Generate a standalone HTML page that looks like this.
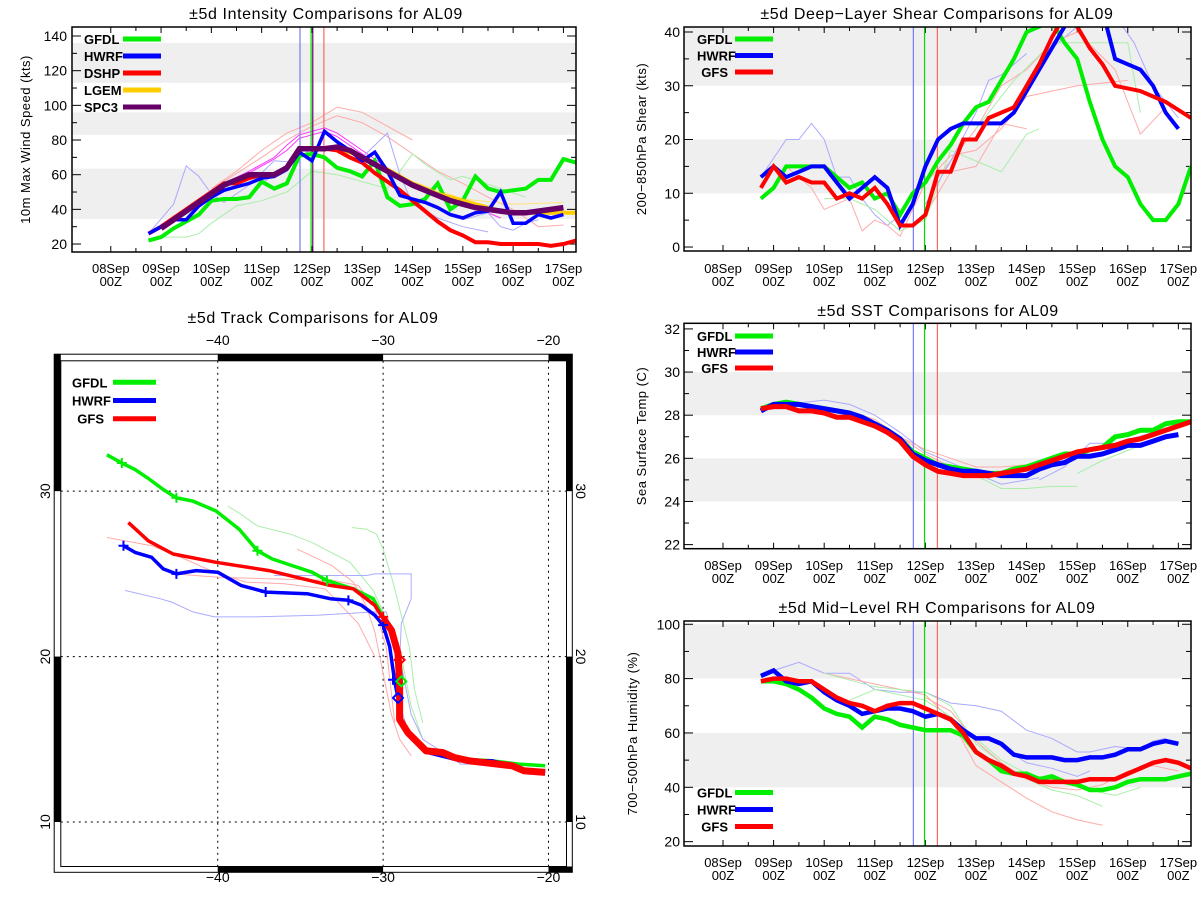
<!DOCTYPE html>
<html><head><meta charset="utf-8"><style>
html,body{margin:0;padding:0;background:#fff;}
svg{display:block;font-family:"Liberation Sans",sans-serif;}
</style></head><body>
<svg id="root" width="1200" height="900" viewBox="0 0 1200 900"></svg>
<script>
// ---------- DATA ----------
const dayLabels = ["08Sep","09Sep","10Sep","11Sep","12Sep","13Sep","14Sep","15Sep","16Sep","17Sep"];
const stepHours = 6;
// Intensity (kts), start 18h after 08Sep00Z, 6-hourly
const intStart = 18;
const intGFDL = [22,24,29,33,37,45,46,46,47,56,52,55,71,72,70,64,62,59,68,47,42,43,46,55,40,45,59,52,50,51,52,57,57,69,67];
const intHWRF = [26,30,34,34,42,47,51,53,55,58,59,63,73,68,85,79,74,68,73,62,48,46,44,41,37,35,38,39,50,32,32,37,35,37];
const intDSHP = [26,30,35,40,45,50,55,55,58,60,60,64,75,75,75,74,70,67,61,56,51,45,39,33,28,25,21,21,20,20,20,20,19,20,22];
const intLGEM = [null,null,null,null,null,null,null,null,null,null,null,null,75,75,75,75,73,70,66,63,59,55,52,49,47,45,43,41,39,38,38,38,38,38,38];
const intSPC3Start = 24;
const intSPC3 = [29,34,39,44,49,54,57,60,60,60,64,75,75,75,76,74,70,66,62,58,54,51,48,45,43,41,40,39,38,38,39,40,41];
const intFaintHours = [
  [48,60,72,84,96,108,120,132,144],
  [54,72,84,96,108,120,132,144,156,168,180,192,204,216],
  [54,66,78,84,90,102,108,120,132,144,156,168,180,186],
  [54,66,78,84,90,102,108,120,132],
  [18,30,36,42,48,54,66,78,90],
  [72,84,96,108,120,132,138,144,156,168,180],
  [24,36,42,48,60,72,84,96,108,120,132,144,150,162,168,174,186,198],
  [168,180,186,192,198,204],
  [120,144,168,192,216]];
const intFaintVals = [
  [52,62,74,84,90,99,96,88,80],
  [56,70,80,88,94,90,82,72,62,55,47,40,30,31],
  [55,62,70,77,83,87,84,74,64,55,48,43,38,35],
  [54,61,69,74,81,85,82,72,62],
  [26,43,65,59,49,44,54,68,67],
  [55,65,75,74,70,84,60,43,35,30,27],
  [24,24,26,32,42,45,50,62,60,56,52,72,66,57,59,57,52,47],
  [34,38,30,28,32,34],
  [70,56,46,43,44]];
const intFaintColors = ["#ffaaaa","#ffaaaa","#ff33ff","#ff33ff","#aaaaff","#aaaaff","#aaeeaa","#aaaaff","#ffe080"];

// Shear (kts)
const shrStart = 18;
const shrGFDL = [9,11,15,15,15,15,13,11,12,9,10,6,10,12,16,19,23,26,27,31,35,40,41,42,38,35,27,20,15,13,8,5,5,8,15];
const shrHWRF = [13,15,13,14,15,15,12,9,11,13,11,4,8,15,20,22,23,23,23,23,25,29,33,37,41,45,45,44,35,34,33,30,25,22];
const shrGFS  = [11,15,12,13,12,12,9,10,9,11,8,4,4,6,14,14,20,20,24,25,26,30,34,39,43,41,37,34,30,29.5,29,28,27,25.5,24];
const shrFaintHours = [
  [18,30,36,42,48,54,60,66,72,78,84],
  [156,168,186,195,204,216],
  [30,42,48,60,66,72,78,84,96,108,120,132,144,168,192],
  [96,108,120,132,144],
  [102,120,132,144,156,168,186,198,210],
  [48,60,72,84,96,108,120,132,144,150],
  [120,138,156,168,192,198],
  [96,108,120,126,132,144]];
const shrFaintVals = [
  [13,20,20,23,20,13,13,9,6,4,6],
  [37,41,43,38,30,24],
  [15,11,7,9,3,5,4,2,12,17,18,22,28,30,31],
  [6,14,15,23,22],
  [13,22,30,33,38,40,33,21,26],
  [9,9,7,3,5,18,16,14,21,22],
  [22,31,38,38,38,25],
  [8,16,25,31,32,36]];
const shrFaintColors = ["#aaaaff","#aaaaff","#ffaaaa","#ffaaaa","#ffaaaa","#aaeeaa","#aaeeaa","#aaaaff"];

// SST (C)
const sstStart = 18;
const sstGFDL = [28.3,28.5,28.6,28.5,28.4,28.3,28.2,28.1,27.9,27.6,27.3,26.9,26.3,26.0,25.7,25.6,25.5,25.4,25.3,25.3,25.5,25.6,25.8,26.0,26.2,26.2,26.4,26.5,27.0,27.1,27.3,27.3,27.6,27.7,27.7];
const sstHWRF = [28.2,28.5,28.5,28.5,28.4,28.3,28.2,28.1,27.9,27.6,27.3,26.9,26.2,25.9,25.7,25.5,25.4,25.4,25.3,25.2,25.2,25.2,25.5,25.7,25.8,26.1,26.1,26.2,26.4,26.6,26.6,26.8,27.0,27.1];
const sstGFS  = [28.3,28.4,28.4,28.2,28.2,28.1,27.9,27.9,27.7,27.5,27.2,26.8,26.1,25.7,25.4,25.3,25.2,25.2,25.2,25.3,25.4,25.5,25.7,25.9,26.1,26.3,26.4,26.5,26.6,26.8,26.9,27.1,27.3,27.5,27.7];
const sstFaintHours = [
  [30,48,60,72,84,96,108,120,132,144,150],
  [120,132,144,156,168],
  [84,96,108,120,132,144],
  [150,162,174,186,204],
  [168,180,198],
  [60,72,84,96,108]];
const sstFaintVals = [
  [28.5,28.7,28.5,28.0,27.2,26.3,25.8,25.3,24.8,25.0,25.1],
  [25.2,24.6,24.6,24.7,24.7],
  [27.0,26.4,26.0,25.6,25.6,25.7],
  [25.0,25.6,26.7,26.7,27.2],
  [25.3,25.9,26.6],
  [28.2,27.8,27.0,26.2,25.6]];
const sstFaintColors = ["#aaaaff","#aaeeaa","#ffaaaa","#aaaaff","#aaeeaa","#ffaaaa"];

// Mid-level RH (%)
const rhStart = 18;
const rhGFDL = [79,79,78,76,73,69,67,66,62,66,65,63,62,61,61,61,59,53,50,46,45,45,43,44,42,41,39,39,40,42,43,43,43,44,45];
const rhHWRF = [81,83,79,78,79,75,72,70,67,68,69,69,68,66,67,65,61,58,58,56,52,51,51,51,50,50,51,51,52,54,54,56,57,56];
const rhGFS  = [79,80,80,79,79,76,73,71,70,68,70,71,71,69,67,65,60,53,50,48,45,44,42,42,42,42,43,43,43,45,47,49,50,49,47];
const rhFaintHours = [
  [24,36,48,60,72,84,96,108,120,132,144,156,168,174,186,198,204,210],
  [48,72,96,108,120,132,144,156,168,180],
  [48,72,96,108,120,132,144,156,168,180],
  [96,108,120,132,144,156,168,180,192,204,216],
  [132,144,156,168,174],
  [60,72,84,96,108,120,132,144,156,168,186,198]];
const rhFaintVals = [
  [83,86,82,82,76,75,75,71,70,68,61,58,53,53,55,54,57,58],
  [82,78,74,65,48,42,36,31,28,26],
  [82,77,75,70,56,49,43,39,37,33],
  [73,68,57,49,43,40,39,41,46,48,46],
  [55,49,47,44,46],
  [72,76,74,72,66,58,50,45,43,40,37,40]];
const rhFaintColors = ["#aaaaff","#ffaaaa","#aaeeaa","#ffaaaa","#aaaaff","#aaeeaa"];

// Tracks (lon, lat)
const trkGFDLlon = [-46.7,-45.8,-45.0,-44.1,-43.3,-42.5,-41.5,-40.1,-38.7,-37.6,-36.7,-35.5,-34.3,-33.4,-31.8,-30.6,-30.1,-29.6,-29.0,-28.9,-29.0,-28.5,-27.6,-26.4,-25.3,-23.4,-21.8,-20.2];
const trkGFDLlat = [32.2,31.7,31.3,30.7,30.1,29.6,29.4,28.8,27.7,26.4,25.9,25.5,25.1,24.6,24.1,23.5,22.6,21.6,20.0,18.5,16.4,15.5,14.5,14.1,13.8,13.7,13.5,13.4];
const trkHWRFlon = [-45.7,-45.0,-44.0,-43.3,-42.5,-41.3,-40.0,-38.6,-37.1,-34.6,-33.2,-32.1,-31.3,-30.5,-30.0,-29.6,-29.3,-29.1,-28.9,-28.3,-27.3,-25.3,-23.4,-22.2,-21.5,-20.2];
const trkHWRFlat = [26.7,26.3,26.0,25.3,25.0,25.2,25.1,24.3,23.9,23.8,23.5,23.4,23.1,22.5,21.9,20.6,18.5,17.5,16.2,15.2,14.2,13.7,13.7,13.4,13.1,13.1];
const trkGFSlon = [-45.4,-44.2,-42.7,-40.1,-36.9,-33.2,-31.8,-30.5,-30.0,-29.5,-29.1,-29.0,-29.0,-28.5,-27.4,-26.4,-25.7,-24.8,-22.2,-21.5,-20.2];
const trkGFSlat = [28.1,27.0,26.2,25.7,25.2,24.3,24.1,23.1,22.3,21.6,20.2,18.3,16.2,15.4,14.3,14.2,13.9,13.7,13.4,13.1,13.0];
const trkGFDLmarkLon = [-45.8,-42.5,-37.6,-33.4];
const trkGFDLmarkLat = [31.7,29.6,26.4,24.6];
const trkHWRFmarkLon = [-45.7,-42.5,-37.1,-32.1,-30.0,-29.4];
const trkHWRFmarkLat = [26.7,25.0,23.9,23.4,21.9,18.6];
const trkGFSmarkLon = [-30.0];
const trkGFSmarkLat = [22.4];
const trkDiamondLon = [-29.1,-28.9,-29.0];
const trkDiamondLat = [17.5,18.5,19.8];
const trkDiamondColors = ["#0000ff","#00ee00","#ff0000"];
const trkFaintLon = [
  [-39.4,-38.6,-37.6,-35.6,-34.3,-32.0,-30.6,-29.9,-29.3,-28.8,-28.3,-27.6],
  [-31.9,-31.0,-30.4,-30.0,-29.4,-28.9,-28.4,-28.1,-27.6],
  [-46.7,-44.0,-42.0,-40.2,-38.3,-36.0,-33.5,-31.5,-30.5],
  [-42.6,-40.0,-37.0,-33.0,-31.5,-30.5,-29.8,-29.3],
  [-45.6,-43.5,-42.8,-41.5,-40.2,-38.0,-34.0,-30.5,-29.8,-29.4,-28.8,-28.3,-27.6,-25.3,-22.0],
  [-36.6,-33.0,-31.0,-30.5,-28.3,-28.3,-28.9,-29.0,-29.1,-28.5,-27.6,-26.8],
  [-35.2,-33.1,-31.8,-31.0,-30.5,-30.0,-29.5,-29.0,-28.3]];
const trkFaintLat = [
  [29.1,28.6,27.9,27.4,26.9,25.7,24.0,22.5,21.0,19.5,17.0,15.0],
  [27.8,27.7,27.4,26.5,24.5,22.5,20.5,18.0,16.0],
  [27.2,26.7,25.9,25.1,24.5,24.4,24.1,22.0,20.0],
  [25.0,24.8,24.7,24.6,24.3,23.0,20.5,16.0],
  [24.0,23.5,23.3,22.7,22.4,22.4,22.5,22.7,22.7,21.0,19.0,16.5,15.0,13.5,13.5],
  [24.9,24.9,24.9,25.0,25.0,23.5,22.0,19.5,17.5,15.5,14.5,14.0],
  [26.5,25.5,24.5,23.0,21.5,19.0,16.5,15.0,14.0]];
const trkFaintColors = ["#aaeeaa","#aaeeaa","#ffaaaa","#ffaaaa","#aaaaff","#aaaaff","#ffaaaa"];

// ---------- DRAWING ----------
const NS = "http://www.w3.org/2000/svg";
const root = document.getElementById('root');
function mk(tag, attrs, parent) {
  const e = document.createElementNS(NS, tag);
  for (const k in attrs) e.setAttribute(k, attrs[k]);
  (parent || root).appendChild(e);
  return e;
}
const H_MIN = -18.5, H_MAX = 222;

function drawPanel(cfg) {
  const g = mk('g', {});
  
  
  const X = h => cfg.x0 + (h - H_MIN) / (H_MAX - H_MIN) * (cfg.x1 - cfg.x0);
  const Y = v => cfg.y1 - (v - cfg.vmin) / (cfg.vmax - cfg.vmin) * (cfg.y1 - cfg.y0);
  const clipId = cfg.name + '-clip';
  const cp = mk('clipPath', {id: clipId}, g);
  mk('rect', {x: cfg.x0, y: cfg.y0, width: cfg.x1 - cfg.x0, height: cfg.y1 - cfg.y0}, cp);
  cfg.bands.forEach(b => {
    const r = mk('rect', {x: cfg.x0, y: Y(Math.min(b[1], cfg.vmax)), width: cfg.x1 - cfg.x0, height: Y(b[0]) - Y(Math.min(b[1], cfg.vmax)), fill: '#efefef'}, g);
    
    
  });
  const t = mk('text', {x: cfg.titleX, y: cfg.titleY, 'text-anchor': 'middle', 'font-size': 16, fill: '#000', 'letter-spacing': '0.6'}, g);
  t.textContent = cfg.title;
  
  
  const yt = mk('text', {x: 0, y: 0, transform: `translate(${cfg.ytX},${(cfg.y0 + cfg.y1) / 2}) rotate(-90)`, 'text-anchor': 'middle', 'font-size': 13, fill: '#000', 'letter-spacing': '0.5'}, g);
  yt.textContent = cfg.ytitle;
  
  
  for (let v = cfg.tickMin; v <= cfg.tickMax + 1e-6; v += cfg.minor) {
    const major = Math.abs(((v - cfg.tickMin) / cfg.major) - Math.round((v - cfg.tickMin) / cfg.major)) < 1e-6;
    const len = major ? 9 : 5;
    mk('line', {x1: cfg.x0, x2: cfg.x0 + len, y1: Y(v), y2: Y(v), stroke: '#000', 'stroke-width': 1}, g);
    mk('line', {x1: cfg.x1, x2: cfg.x1 - len, y1: Y(v), y2: Y(v), stroke: '#000', 'stroke-width': 1}, g);
    if (major) {
      const tl = mk('text', {x: cfg.ylabX, y: Y(v) + 5, 'text-anchor': 'end', 'font-size': 14, fill: '#000'}, g);
      tl.textContent = String(v);
      
      
    }
  }
  for (let h = 0; h <= 216; h += 12) {
    const len = (h % 24 === 0) ? 6 : 4;
    mk('line', {x1: X(h), x2: X(h), y1: cfg.y1, y2: cfg.y1 - len, stroke: '#000', 'stroke-width': 1}, g);
    mk('line', {x1: X(h), x2: X(h), y1: cfg.y0, y2: cfg.y0 + len, stroke: '#000', 'stroke-width': 1}, g);
  }
  dayLabels.forEach((d, i) => {
    const tl = mk('text', {x: X(i * 24), y: cfg.xlabY, 'text-anchor': 'middle', 'font-size': 13, fill: '#000'}, g);
    tl.textContent = d;
    
    
    const t2 = mk('text', {x: X(i * 24), y: cfg.xlabY + 13, 'text-anchor': 'middle', 'font-size': 13, fill: '#000'}, g);
    t2.textContent = '00Z';
    
    
  });
  const plot = mk('g', {'clip-path': `url(#${clipId})`}, g);
  cfg.faintHours.forEach((hs, i) => {
    const pts = hs.map((h, j) => X(h).toFixed(1) + ',' + Y(cfg.faintVals[i][j]).toFixed(1)).join(' ');
    const p = mk('polyline', {points: pts, fill: 'none', stroke: cfg.faintColors[i], 'stroke-width': 1}, plot);
    
    
  });
  cfg.vlines.forEach(v => {
    const l = mk('line', {x1: X(v[0]), x2: X(v[0]), y1: cfg.y0, y2: cfg.y1, stroke: v[1], 'stroke-width': 1.2}, plot);
    
    
  });
  cfg.series.forEach(s => {
    let pts = [];
    s.vals.forEach((v, j) => { if (v !== null) pts.push(X(s.start + j * stepHours).toFixed(1) + ',' + Y(v).toFixed(1)); });
    const p = mk('polyline', {points: pts.join(' '), fill: 'none', stroke: s.color, 'stroke-width': s.w, 'stroke-linejoin': 'miter'}, plot);
    
    
  });
  mk('rect', {x: cfg.x0, y: cfg.y0, width: cfg.x1 - cfg.x0, height: cfg.y1 - cfg.y0, fill: 'none', stroke: '#000', 'stroke-width': 1.5}, g);
  cfg.legend.forEach((L, i) => {
    const ly = cfg.legY + i * cfg.legDy;
    const lt = mk('text', {x: L.anchor === 'end' ? cfg.legTextEnd : cfg.legX, y: ly + 5, 'text-anchor': L.anchor || 'start', 'font-size': 13, 'font-weight': 'bold', fill: '#000'}, g);
    lt.textContent = L.label;
    
    
    const ll = mk('line', {x1: cfg.legL0, x2: cfg.legL1, y1: ly, y2: ly, stroke: L.color, 'stroke-width': 5}, g);
    
    
  });
}

drawPanel({name: 'intensity-chart', x0: 72, x1: 576, y0: 27, y1: 252, vmin: 15.4, vmax: 145.2,
  bands: [[34.5, 63.5], [83, 96], [113, 136]], title: '\u00b15d Intensity Comparisons for AL09', titleX: 326, titleY: 19,
  ytitle: '10m Max Wind Speed (kts)', ytX: 30, ylabX: 67, tickMin: 20, tickMax: 140, major: 20, minor: 10, xlabY: 273,
  faintHours: intFaintHours, faintVals: intFaintVals, faintColors: intFaintColors,
  vlines: [[90.3, '#7777ff'], [95.6, '#00dd00'], [96.4, '#660066'], [101.7, '#ff6666']],
  series: [
    {name: 'gfdl-line', vals: intGFDL, start: intStart, color: '#00ee00', w: 4},
    {name: 'lgem-line', vals: intLGEM, start: intStart, color: '#ffcc00', w: 4},
    {name: 'dshp-line', vals: intDSHP, start: intStart, color: '#ff0000', w: 4},
    {name: 'hwrf-line', vals: intHWRF, start: intStart, color: '#0000ff', w: 3.5},
    {name: 'spc3-line', vals: intSPC3, start: intSPC3Start, color: '#660066', w: 5.5}],
  legend: [{label: 'GFDL', color: '#00ee00'}, {label: 'HWRF', color: '#0000ff'}, {label: 'DSHP', color: '#ff0000'}, {label: 'LGEM', color: '#ffcc00'}, {label: 'SPC3', color: '#660066'}],
  legX: 84, legTextEnd: 117, legL0: 123, legL1: 161, legY: 39, legDy: 17});

drawPanel({name: 'shear-chart', x0: 684, x1: 1191, y0: 27, y1: 251, vmin: -0.74, vmax: 40.93,
  bands: [[10, 20], [30, 40.93]], title: '\u00b15d Deep\u2212Layer Shear Comparisons for AL09', titleX: 937, titleY: 19,
  ytitle: '200\u2212850hPa Shear (kts)', ytX: 646, ylabX: 680, tickMin: 0, tickMax: 40, major: 10, minor: 5, xlabY: 273,
  faintHours: shrFaintHours, faintVals: shrFaintVals, faintColors: shrFaintColors,
  vlines: [[90.3, '#7777ff'], [95.6, '#00dd00'], [101.7, '#ff6666']],
  series: [
    {name: 'gfdl-line', vals: shrGFDL, start: shrStart, color: '#00ee00', w: 4},
    {name: 'hwrf-line', vals: shrHWRF, start: shrStart, color: '#0000ff', w: 4},
    {name: 'gfs-line', vals: shrGFS, start: shrStart, color: '#ff0000', w: 4}],
  legend: [{label: 'GFDL', color: '#00ee00'}, {label: 'HWRF', color: '#0000ff'}, {label: 'GFS', color: '#ff0000', anchor: 'end'}],
  legX: 697, legTextEnd: 728, legL0: 735, legL1: 773, legY: 39, legDy: 16.5});

drawPanel({name: 'sst-chart', x0: 684, x1: 1191, y0: 323.3, y1: 548.7, vmin: 21.81, vmax: 32.26,
  bands: [[24, 26], [28, 30]], title: '\u00b15d SST Comparisons for AL09', titleX: 938, titleY: 316,
  ytitle: 'Sea Surface Temp (C)', ytX: 646, ylabX: 680, tickMin: 22, tickMax: 32, major: 2, minor: 1, xlabY: 570,
  faintHours: sstFaintHours, faintVals: sstFaintVals, faintColors: sstFaintColors,
  vlines: [[90.3, '#7777ff'], [95.6, '#00dd00'], [101.7, '#ff6666']],
  series: [
    {name: 'gfdl-line', vals: sstGFDL, start: sstStart, color: '#00ee00', w: 5},
    {name: 'hwrf-line', vals: sstHWRF, start: sstStart, color: '#0000ff', w: 5},
    {name: 'gfs-line', vals: sstGFS, start: sstStart, color: '#ff0000', w: 5}],
  legend: [{label: 'GFDL', color: '#00ee00'}, {label: 'HWRF', color: '#0000ff'}, {label: 'GFS', color: '#ff0000', anchor: 'end'}],
  legX: 697, legTextEnd: 728, legL0: 735, legL1: 773, legY: 336, legDy: 16});

drawPanel({name: 'rh-chart', x0: 684, x1: 1191, y0: 621, y1: 846, vmin: 18.4, vmax: 101.2,
  bands: [[40, 60], [80, 100]], title: '\u00b15d Mid\u2212Level RH Comparisons for AL09', titleX: 937, titleY: 613,
  ytitle: '700\u2212500hPa Humidity (%)', ytX: 637, ylabX: 680, tickMin: 20, tickMax: 100, major: 20, minor: 10, xlabY: 867,
  faintHours: rhFaintHours, faintVals: rhFaintVals, faintColors: rhFaintColors,
  vlines: [[90.3, '#7777ff'], [95.6, '#00dd00'], [101.7, '#ff6666']],
  series: [
    {name: 'gfdl-line', vals: rhGFDL, start: rhStart, color: '#00ee00', w: 4.5},
    {name: 'hwrf-line', vals: rhHWRF, start: rhStart, color: '#0000ff', w: 4.5},
    {name: 'gfs-line', vals: rhGFS, start: rhStart, color: '#ff0000', w: 4.5}],
  legend: [{label: 'GFDL', color: '#00ee00'}, {label: 'HWRF', color: '#0000ff'}, {label: 'GFS', color: '#ff0000', anchor: 'end'}],
  legX: 697, legTextEnd: 728, legL0: 735, legL1: 773, legY: 792.5, legDy: 17});

// ---------- TRACK MAP ----------
(function () {
  const g = mk('g', {});
  
  
  const ix0 = 60.8, ix1 = 566.5, iy0 = 360.8, iy1 = 866.5;
  const lonMin = -49.49, lonMax = -18.91, latMin = 7.31, latMax = 37.88;
  const LX = lon => ix0 + (lon - lonMin) / (lonMax - lonMin) * (ix1 - ix0);
  const LY = lat => iy1 - (lat - latMin) / (latMax - latMin) * (iy1 - iy0);
  const ox0 = 54.2, ox1 = 572.3, oy0 = 354.2, oy1 = 872.3;
  const t = mk('text', {x: 313, y: 323, 'text-anchor': 'middle', 'font-size': 16, fill: '#000', 'letter-spacing': '0.6'}, g);
  t.textContent = '\u00b15d Track Comparisons for AL09';
  
  
  mk('rect', {x: ox0, y: oy0, width: ox1 - ox0, height: oy1 - oy0, fill: '#fff', stroke: '#000', 'stroke-width': 1}, g);
  const blk = (x, y, w, h) => mk('rect', {x: x, y: y, width: w, height: h, fill: '#000'}, g);
  blk(LX(-40), oy0, LX(-30) - LX(-40), iy0 - oy0);
  blk(LX(-40), iy1, LX(-30) - LX(-40), oy1 - iy1);
  blk(LX(-20), oy0, ox1 - LX(-20), iy0 - oy0);
  blk(LX(-20), iy1, ox1 - LX(-20), oy1 - iy1);
  blk(ox0, oy0, ix0 - ox0, LY(30) - oy0);
  blk(ix1, oy0, ox1 - ix1, LY(30) - oy0);
  blk(ox0, LY(20), ix0 - ox0, LY(10) - LY(20));
  blk(ix1, LY(20), ox1 - ix1, LY(10) - LY(20));
  mk('rect', {x: ix0, y: iy0, width: ix1 - ix0, height: iy1 - iy0, fill: '#fff', stroke: '#000', 'stroke-width': 1}, g);
  [-40, -30, -20].forEach(lon => {
    const gl = mk('line', {x1: LX(lon), x2: LX(lon), y1: iy0, y2: iy1, stroke: '#000', 'stroke-width': 1, 'stroke-dasharray': '2,4'}, g);
    
    
    [345, 882].forEach(yy => {
      const tl = mk('text', {x: LX(lon), y: yy, 'text-anchor': 'middle', 'font-size': 14, fill: '#000'}, g);
      tl.textContent = '\u2212' + Math.abs(lon);
      
      
    });
  });
  [10, 20, 30].forEach(lat => {
    const gl = mk('line', {x1: ix0, x2: ix1, y1: LY(lat), y2: LY(lat), stroke: '#000', 'stroke-width': 1, 'stroke-dasharray': '2,4'}, g);
    
    
    const a = mk('text', {x: 0, y: 0, transform: `translate(50,${LY(lat)}) rotate(-90)`, 'text-anchor': 'middle', 'font-size': 14, fill: '#000'}, g);
    a.textContent = String(lat);
    
    
    const b = mk('text', {x: 0, y: 0, transform: `translate(576,${LY(lat)}) rotate(90)`, 'text-anchor': 'middle', 'font-size': 14, fill: '#000'}, g);
    b.textContent = String(lat);
    
    
  });
  trkFaintLon.forEach((lons, i) => {
    const pts = lons.map((lo, j) => LX(lo).toFixed(1) + ',' + LY(trkFaintLat[i][j]).toFixed(1)).join(' ');
    const p = mk('polyline', {points: pts, fill: 'none', stroke: trkFaintColors[i], 'stroke-width': 1}, g);
    
    
  });
  const track = (lons, lats, color, w, name) => {
    const pts = lons.map((lo, j) => LX(lo).toFixed(1) + ',' + LY(lats[j]).toFixed(1)).join(' ');
    const p = mk('polyline', {points: pts, fill: 'none', stroke: color, 'stroke-width': w, 'stroke-linejoin': 'round'}, g);
    
    
  };
  track(trkGFDLlon, trkGFDLlat, '#00ee00', 3.5, 'gfdl-track');
  track(trkHWRFlon, trkHWRFlat, '#0000ff', 3.5, 'hwrf-track');
  track(trkGFSlon.slice(0, 9), trkGFSlat.slice(0, 9), '#ff0000', 3.5, 'gfs-track-early');
  track(trkGFSlon.slice(8), trkGFSlat.slice(8), '#ff0000', 7, 'gfs-track-late');
  const cross = (lons, lats, color) => lons.forEach((lo, j) => {
    const x = LX(lo), y = LY(lats[j]);
    const c = mk('path', {d: `M${x - 5},${y}H${x + 5}M${x},${y - 5}V${y + 5}`, stroke: color, 'stroke-width': 2, fill: 'none'}, g);
    
    
  });
  cross(trkGFDLmarkLon, trkGFDLmarkLat, '#00ee00');
  cross(trkHWRFmarkLon, trkHWRFmarkLat, '#0000ff');
  cross(trkGFSmarkLon, trkGFSmarkLat, '#ff0000');
  trkDiamondLon.forEach((lo, j) => {
    const x = LX(lo), y = LY(trkDiamondLat[j]);
    const d = mk('path', {d: `M${x},${y - 5}L${x + 5},${y}L${x},${y + 5}L${x - 5},${y}Z`, stroke: trkDiamondColors[j], 'stroke-width': 2, fill: 'none'}, g);
    
    
  });
  const legs = [['GFDL', '#00ee00', 'start'], ['HWRF', '#0000ff', 'start'], ['GFS', '#ff0000', 'end']];
  legs.forEach((L, i) => {
    const y = 382.3 + i * 18.2;
    const tx = mk('text', {x: L[2] === 'end' ? 104 : 72, y: y + 5, 'text-anchor': L[2], 'font-size': 13, 'font-weight': 'bold', fill: '#000'}, g);
    tx.textContent = L[0];
    
    
    const ln = mk('line', {x1: 113, x2: 156, y1: y, y2: y, stroke: L[1], 'stroke-width': 5}, g);
    
    
  });
})();
</script>
</body></html>
